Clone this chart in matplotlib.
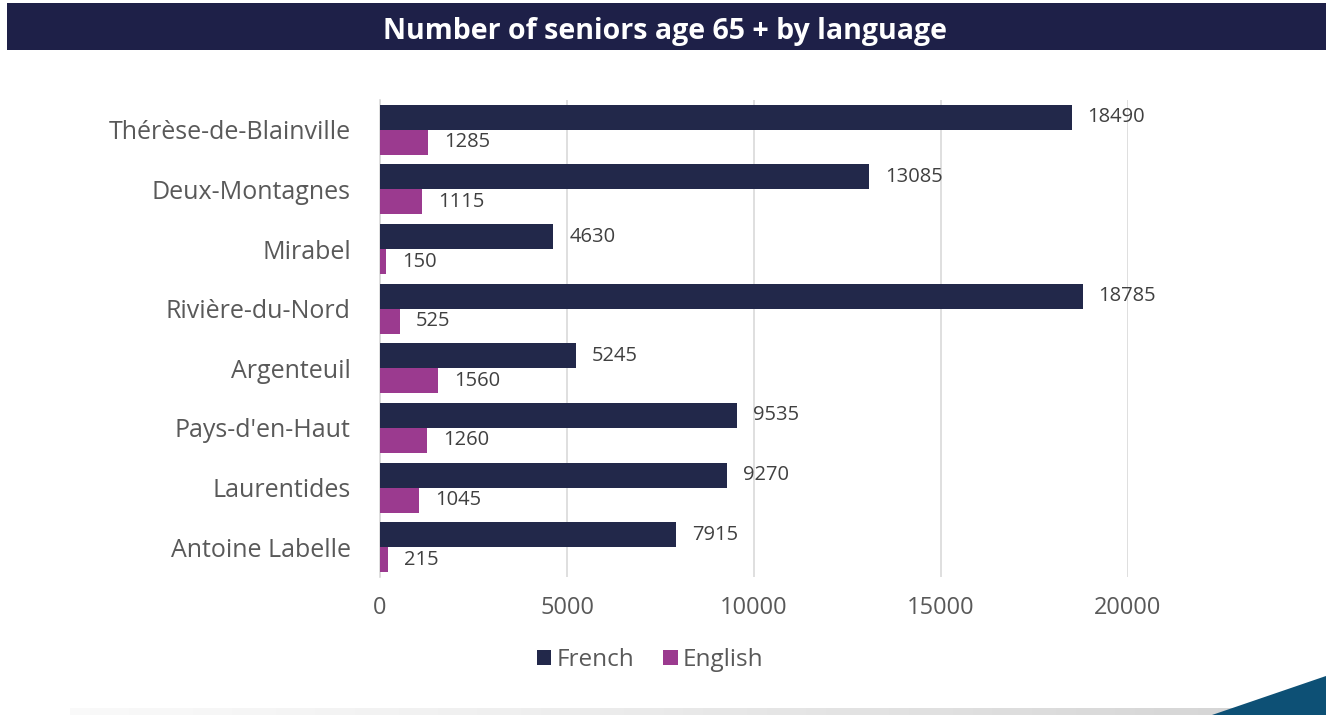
import matplotlib.pyplot as plt
import numpy as np
from matplotlib.patches import Rectangle, Polygon

# data
regions = ["Thérèse-de-Blainville", "Deux-Montagnes", "Mirabel", "Rivière-du-Nord",
           "Argenteuil", "Pays-d'en-Haut", "Laurentides", "Antoine Labelle"]
french = [18490, 13085, 4630, 18785, 5245, 9535, 9270, 7915]
english = [1285, 1115, 150, 525, 1560, 1260, 1045, 215]
x_ticks = [0, 5000, 10000, 15000, 20000]

NAVY = "#22284a"
PURPLE = "#9b3a8f"
TXT = "#404040"

plt.rcParams['font.family'] = ['Open Sans', 'DejaVu Sans']

W, H = 1326, 715
fig = plt.figure(figsize=(W / 100, H / 100), dpi=100)

# title banner
fig.patches.append(Rectangle((7 / W, 1 - 50 / H), 1 - 7 / W, 47 / H, transform=fig.transFigure,
                             facecolor="#1e2048", edgecolor="none", zorder=0))
fig.text(665 / W, 1 - 32 / H, "Number of seniors age 65 + by language", color="white",
         fontsize=20.5, fontweight="bold", ha="center", va="center")

ax = fig.add_axes([380 / W, 1 - 577 / H, 748 / W, 477 / H])
y = np.arange(len(regions))
h = 0.42
b1 = ax.barh(y - h / 2, french, height=h, color=NAVY, label="French", zorder=3)
b2 = ax.barh(y + h / 2, english, height=h, color=PURPLE, label="English", zorder=3)

for bars, vals in ((b1, french), (b2, english)):
    for bar, v in zip(bars, vals):
        ax.text(v + 430, bar.get_y() + bar.get_height() / 2, str(v), va="center", ha="left",
                fontsize=14.5, color=TXT, clip_on=False)

ax.set_xlim(0, 20000)
ax.set_ylim(len(regions) - 0.5, -0.5)
ax.set_xticks(x_ticks)
ax.set_xticklabels([str(t) for t in x_ticks])
ax.set_yticks(y)
ax.set_yticklabels(regions)
ax.tick_params(axis="both", length=0, labelsize=17, labelcolor="#595959")
ax.tick_params(axis="y", pad=21, labelsize=18)
ax.tick_params(axis="x", pad=14)
ax.xaxis.grid(True, color="#d9d9d9", linewidth=1.2, zorder=0)
for s in ("top", "right", "bottom"):
    ax.spines[s].set_visible(False)
ax.spines["left"].set_color("#d9d9d9")
ax.spines["left"].set_linewidth(1.2)

ax.legend(loc="center", bbox_to_anchor=(650 / W, 1 - 660 / H), bbox_transform=fig.transFigure,
          ncol=2, frameon=False, fontsize=17.5, handlelength=0.6, handleheight=0.6,
          handletextpad=0.2, columnspacing=1.2, labelcolor="#595959")

# bottom decoration: faded shadow line and corner triangle
shade = fig.add_axes([70 / W, 0, 1 - 70 / W, 7 / H])
grad = np.linspace(0, 1, 256).reshape(1, -1)
shade.imshow(grad, aspect="auto", cmap="Greys", vmin=-0.2, vmax=4, extent=(0, 1, 0, 1))
shade.set_axis_off()
fig.patches.append(Polygon([(1212 / W, 0), (1, 39 / H), (1, 0)], closed=True,
                           transform=fig.transFigure, facecolor="#0d5075", edgecolor="none", zorder=5))

fig.savefig("out.png", dpi=100)
